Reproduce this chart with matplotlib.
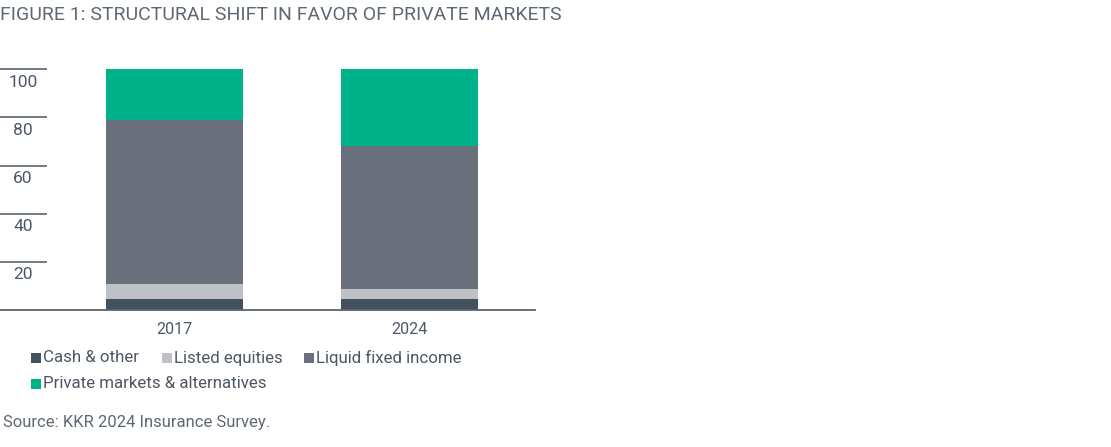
import matplotlib.pyplot as plt
from matplotlib.patches import Rectangle

# Data
years = ['2017', '2024']
series = ['Cash & other', 'Listed equities', 'Liquid fixed income', 'Private markets & alternatives']
cash = [4.6, 4.6]
listed = [6.2, 4.1]
liquid = [68.0, 59.5]
private = [21.2, 31.8]
colors = ['#44515e', '#c0c1c6', '#6a707b', '#00b28a']
yticks = [20, 40, 60, 80, 100]

text_color = '#4d5763'
plt.rcParams['font.family'] = ['Roboto', 'DejaVu Sans']

W, H = 1111, 447
fig = plt.figure(figsize=(W / 100, H / 100), dpi=100)

# axes geometry in pixels
base_px, px_per_unit = 310, 2.407
ymax = 105
top_px = base_px - ymax * px_per_unit
ax = fig.add_axes([0, (H - base_px) / H, 535 / W, (base_px - top_px) / H])

x = [0, 1]
px_per_x = 234.6
ax.set_xlim(-174.7 / px_per_x, (535 - 174.7) / px_per_x)
ax.set_ylim(0, ymax)

bottom = [0, 0]
for vals, c in zip([cash, listed, liquid, private], colors):
    ax.bar(x, vals, bottom=bottom, width=137 / px_per_x, color=c, linewidth=0)
    bottom = [b + v for b, v in zip(bottom, vals)]

# clean axes
for s in ['top', 'right', 'left']:
    ax.spines[s].set_visible(False)
ax.spines['bottom'].set_color('#5a6470')
ax.spines['bottom'].set_linewidth(1.3)
ax.set_xticks([])
ax.set_yticks([])

# short tick lines with labels underneath
tr = ax.get_yaxis_transform()
ax.hlines(yticks, 0, 47 / 535, transform=tr, color='#5a6470', linewidth=1.2, clip_on=False)
for t in yticks:
    ax.text(23 / 535, t - 5.3, str(t), transform=tr, ha='center', va='center',
            fontsize=12.5, color=text_color)

# category labels
for xi, yr in zip(x, years):
    ax.text(xi, -19 / px_per_unit, yr, ha='center', va='center',
            fontsize=11.5, color=text_color, clip_on=False)

# title and source
fig.text(0, 1 - 15 / H, 'FIGURE 1: STRUCTURAL SHIFT IN FAVOR OF PRIVATE MARKETS',
         ha='left', va='center', fontsize=14, color='#5f6873')
fig.text(3 / W, 1 - 423 / H, 'Source: KKR 2024 Insurance Survey.',
         ha='left', va='center', fontsize=12, color='#5f6873')

# legend, drawn by hand to match the original flow layout
leg_pos = [(31, 358), (162, 358), (304, 358), (31, 384)]
for (lx, ly), name, c in zip(leg_pos, series, colors):
    fig.add_artist(Rectangle((lx / W, 1 - (ly + 5) / H), 10 / W, 10 / H,
                             transform=fig.transFigure, color=c, linewidth=0))
    fig.text((lx + 12) / W, 1 - ly / H, name, ha='left', va='center',
             fontsize=12.2, color=text_color)

plt.savefig('out.png', dpi=100)
